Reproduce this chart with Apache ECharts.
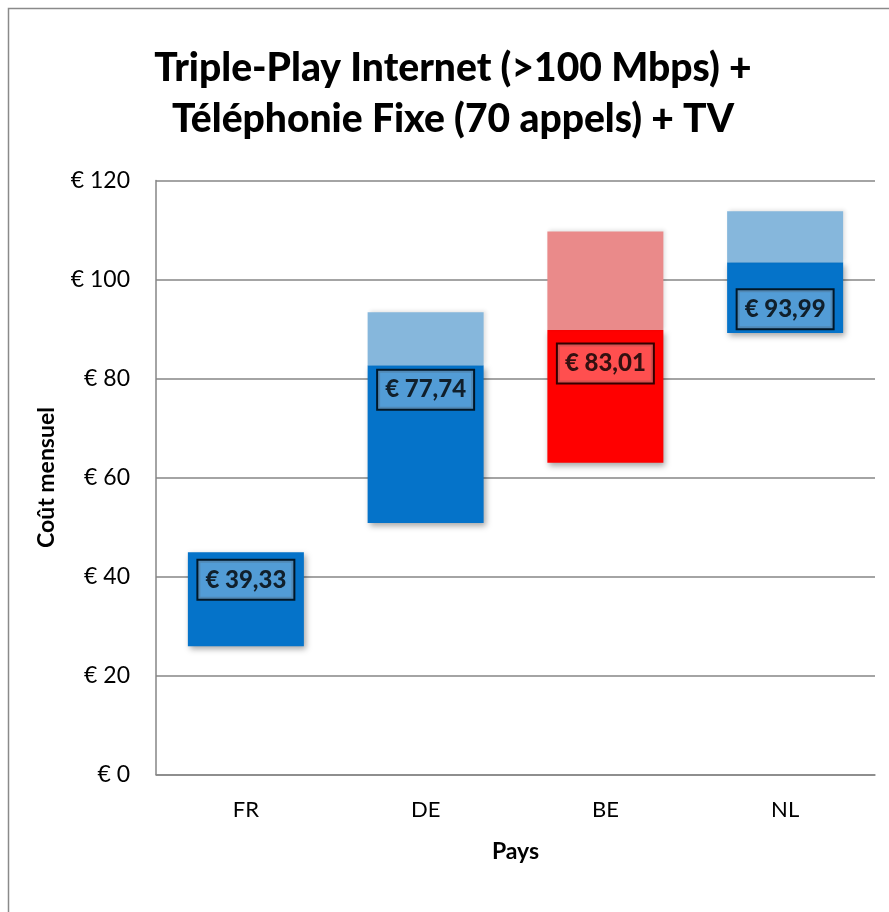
<!DOCTYPE html>
<html>
<head>
<meta charset="utf-8">
<script src="https://cdn.jsdelivr.net/npm/echarts@6/dist/echarts.min.js"></script>
<style>
html,body{margin:0;padding:0;background:#fff;}
#c{width:889px;height:912px;}
</style>
</head>
<body>
<div id="c"></div>
<script>
// Data
var categories = ['FR', 'DE', 'BE', 'NL'];
var lowValues = [25.9, 50.8, 63.0, 89.2];      // bottom of bar
var midValues = [44.9, 82.7, 89.8, 103.5];     // top of dark part
var highValues = [44.9, 93.4, 109.7, 113.8];   // top of light part
var labelValues = [39.33, 77.74, 83.01, 93.99];
var yTicks = [0, 20, 40, 60, 80, 100, 120];

var darkColors = ['#0573c9', '#0573c9', '#ff0000', '#0573c9'];
var lightColors = ['#86b7dc', '#86b7dc', '#ea8a8a', '#86b7dc'];
var labelBg = ['#65a6d9', '#65a6d9', '#ff6363', '#65a6d9'];

var FONT = 'Lato';

var chart = echarts.init(document.getElementById('c'), null, {renderer: 'canvas'});

var baseData = lowValues.map(function (v) { return v; });
var darkData = midValues.map(function (v, i) {
  return { value: +(v - lowValues[i]).toFixed(2), itemStyle: { color: darkColors[i] } };
});
var lightData = highValues.map(function (v, i) {
  return { value: +(v - midValues[i]).toFixed(2), itemStyle: { color: lightColors[i] } };
});
var labelData = labelValues.map(function (v, i) {
  return {
    value: [categories[i], v],
    label: { backgroundColor: labelBg[i] }
  };
});

var option = {
  backgroundColor: '#ffffff',
  animation: false,
  title: {
    text: 'Triple-Play Internet (>100 Mbps) +\nTéléphonie Fixe (70 appels) + TV',
    left: 448,
    top: 38,
    textAlign: 'center',
    textStyle: {
      fontFamily: FONT,
      fontWeight: 900,
      fontSize: 39,
      lineHeight: 51,
      color: '#000'
    }
  },
  graphic: [{
    type: 'rect',
    z: -10,
    shape: { x: 8.5, y: 8.5, width: 1000, height: 1000 },
    style: { fill: 'none', stroke: '#8a8a8a', lineWidth: 1.5 }
  }],
  grid: { left: 156, top: 180.5, right: 14, bottom: 137.5 },
  xAxis: {
    type: 'category',
    data: categories,
    name: 'Pays',
    nameLocation: 'middle',
    nameGap: 66,
    nameTextStyle: { fontFamily: FONT, fontWeight: 'bold', fontSize: 23, color: '#000' },
    axisLine: { lineStyle: { color: '#868686', width: 1.5 } },
    axisTick: { show: false },
    axisLabel: { fontFamily: FONT, fontSize: 22, color: '#000', margin: 24 }
  },
  yAxis: {
    type: 'value',
    min: 0,
    max: 120,
    interval: 20,
    name: 'Coût mensuel',
    nameLocation: 'middle',
    nameGap: 98,
    nameRotate: 90,
    nameTextStyle: { fontFamily: FONT, fontWeight: 'bold', fontSize: 23, color: '#000' },
    axisLine: { show: true, lineStyle: { color: '#868686', width: 1.5 } },
    axisTick: { show: false },
    splitLine: { lineStyle: { color: '#868686', width: 1.5 } },
    axisLabel: {
      fontFamily: FONT, fontSize: 23, color: '#000', margin: 26,
      formatter: function (v) { return yTicks.indexOf(v) >= 0 ? '€ ' + v : ''; }
    }
  },
  series: [
    {
      type: 'bar', stack: 'a', data: baseData, barWidth: 116,
      itemStyle: { color: 'transparent' }, silent: true
    },
    {
      type: 'bar', stack: 'a', data: darkData, barWidth: 116,
      itemStyle: {
        shadowBlur: 6, shadowOffsetX: 2, shadowOffsetY: 3,
        shadowColor: 'rgba(0,0,0,0.35)'
      }
    },
    {
      type: 'bar', stack: 'a', data: lightData, barWidth: 116,
      itemStyle: {
        shadowBlur: 4, shadowOffsetX: 2, shadowOffsetY: -1,
        shadowColor: 'rgba(0,0,0,0.12)'
      }
    },
    {
      type: 'scatter',
      data: labelData,
      symbolSize: 1,
      itemStyle: { color: 'transparent' },
      z: 10,
      label: {
        show: true,
        position: 'inside',
        formatter: function (p) { return '€ ' + p.value[1].toFixed(2).replace('.', ','); },
        fontFamily: FONT,
        fontWeight: 900,
        fontSize: 24,
        color: '#000',
        borderColor: '#000',
        borderWidth: 2,
        padding: [8, 7, 6, 7]
      }
    }
  ]
};

chart.setOption(option);
</script>
</body>
</html>
